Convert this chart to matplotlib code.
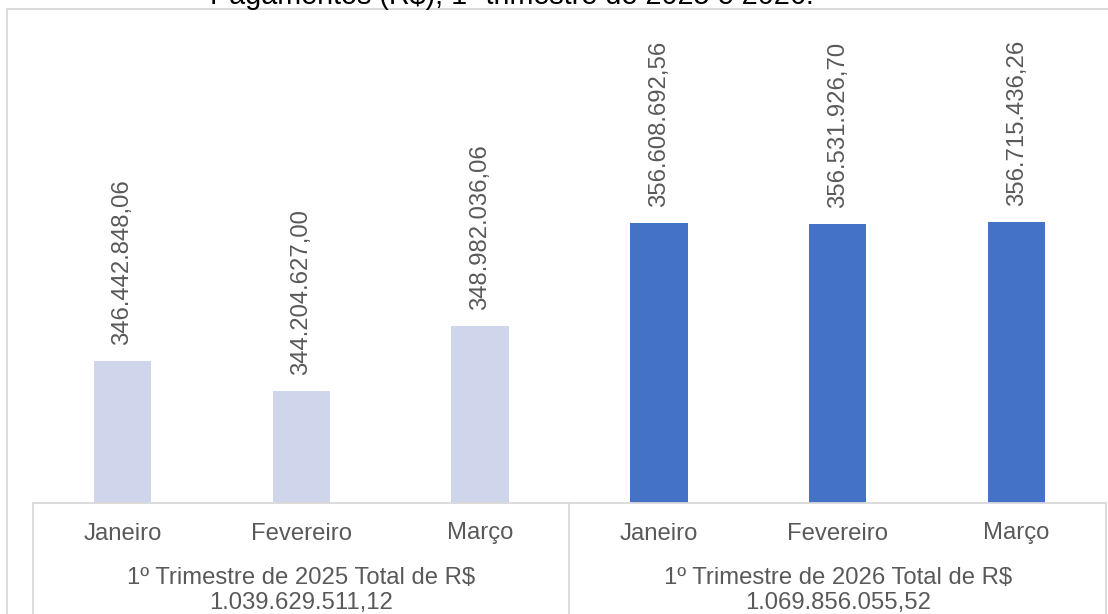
import matplotlib
matplotlib.use("Agg")
import matplotlib.pyplot as plt
from matplotlib.lines import Line2D
import matplotlib.transforms as mtransforms

# ---- data ----
months = ["Janeiro", "Fevereiro", "Março", "Janeiro", "Fevereiro", "Março"]
values_2025 = [346442848.06, 344204627.00, 348982036.06]
values_2026 = [356608692.56, 356531926.70, 356715436.26]
value_labels_2025 = ["346.442.848,06", "344.204.627,00", "348.982.036,06"]
value_labels_2026 = ["356.608.692,56", "356.531.926,70", "356.715.436,26"]
group_titles = ["1º Trimestre de 2025 Total de R$", "1º Trimestre de 2026 Total de R$"]
group_totals = ["1.039.629.511,12", "1.069.856.055,52"]
title = "Pagamentos (R$), 1º trimestre de 2025 e 2026."

plt.rcParams['font.family'] = ['Liberation Sans', 'DejaVu Sans']

W, H = 1108, 614
fig = plt.figure(figsize=(W / 100, H / 100), dpi=100)
fig.patch.set_facecolor("white")

ax_left, ax_right = 33, 1106
ax_bottom_px, ax_top_px = 502.6, 20
ax = fig.add_axes([ax_left / W, (H - ax_bottom_px) / H,
                   (ax_right - ax_left) / W, (ax_bottom_px - ax_top_px) / H])

values = values_2025 + values_2026
labels = value_labels_2025 + value_labels_2026
colors = ["#CFD5EA"] * len(values_2025) + ["#4472C4"] * len(values_2026)
x = list(range(len(values)))

ymin = 335.96e6
px_per_unit = 13.54 / 1e6
ymax = ymin + (ax_bottom_px - ax_top_px) / px_per_unit

ax.bar(x, [v - ymin for v in values], bottom=ymin, width=0.32, color=colors, zorder=2)
ax.set_xlim(-0.5, len(values) - 0.5)
ax.set_ylim(ymin, ymax)

text_color = "#595959"
fs = 17.2
for xi, v, lab in zip(x, values, labels):
    ax.annotate(lab, xy=(xi, v), xytext=(0, 11.5), textcoords="offset points",
                rotation=90, ha="center", va="bottom", fontsize=fs, color=text_color)

for s in ["top", "right", "left"]:
    ax.spines[s].set_visible(False)
ax.spines["bottom"].set_color("#D9D9D9")
ax.spines["bottom"].set_linewidth(1.3)
ax.set_xticks([])
ax.set_yticks([])

# category labels
for xi, m in zip(x, months):
    ax.annotate(m, xy=(xi, 0), xycoords=("data", "axes fraction"),
                xytext=(0, -(539.5 - ax_bottom_px) * 0.72), textcoords="offset points",
                ha="center", va="baseline", fontsize=fs, color=text_color)

# group labels
n_per_group = len(values_2025)
for g, (gt, tot) in enumerate(zip(group_titles, group_totals)):
    cx = g * n_per_group + (n_per_group - 1) / 2
    ax.annotate(gt, xy=(cx, 0), xycoords=("data", "axes fraction"),
                xytext=(0, -(584.5 - ax_bottom_px) * 0.72), textcoords="offset points",
                ha="center", va="baseline", fontsize=fs, color=text_color)
    ax.annotate(tot, xy=(cx, 0), xycoords=("data", "axes fraction"),
                xytext=(0, -(609.5 - ax_bottom_px) * 0.72), textcoords="offset points",
                ha="center", va="baseline", fontsize=fs, color=text_color)

# group separators
trans = mtransforms.blended_transform_factory(ax.transData, ax.transAxes)
for g in range(len(group_titles) + 1):
    xs = g * n_per_group - 0.5
    ax.add_line(Line2D([xs, xs], [0, -0.5], transform=trans, color="#D9D9D9",
                       linewidth=1.3, clip_on=False))

# chart border
fig.add_artist(Line2D([7 / W, 1.0], [(H - 9) / H, (H - 9) / H], transform=fig.transFigure,
                      color="#D9D9D9", linewidth=1.3))
fig.add_artist(Line2D([7 / W, 7 / W], [0, (H - 9) / H], transform=fig.transFigure,
                      color="#D9D9D9", linewidth=1.3))

# title (partially cut off at top, as in the reference)
fig.text(512 / W, (H - 4) / H, title, ha="center", va="baseline",
         fontsize=20.7, color="#000000")

fig.savefig("out.png", dpi=100, facecolor="white")
